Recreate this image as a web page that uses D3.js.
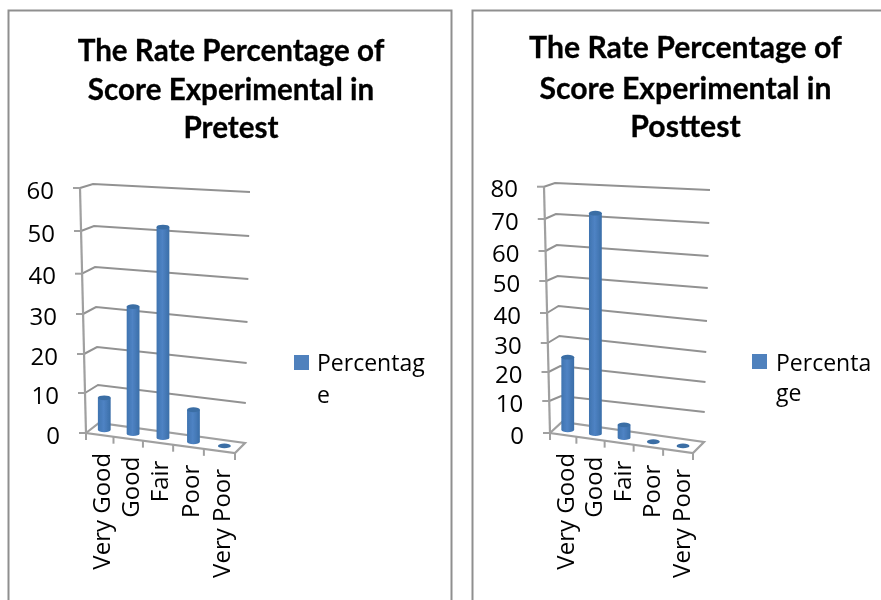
<!DOCTYPE html>
<html>
<head>
<meta charset="utf-8">
<script src="https://cdn.jsdelivr.net/npm/d3@7"></script>
<style>
  html, body { margin: 0; padding: 0; background: #fff; overflow: hidden; }
  svg { display: block; }
</style>
</head>
<body>
<div id="chart"></div>
<script>
// chart values
const categories = ['Very Good', 'Good', 'Fair', 'Poor', 'Very Poor'];
const pretestValues = [8, 32, 52, 8, 0];
const posttestValues = [24, 72, 4, 0, 0];
const pretestTicks = [0, 10, 20, 30, 40, 50, 60];
const posttestTicks = [0, 10, 20, 30, 40, 50, 60, 70, 80];
const pretestTitle = ['The Rate Percentage of', 'Score Experimental in', 'Pretest'];
const posttestTitle = ['The Rate Percentage of', 'Score Experimental in', 'Posttest'];
const pretestLegend = ['Percentag', 'e'];
const posttestLegend = ['Percenta', 'ge'];

const width = 881;
const height = 600;
const gridColor = '#929292';
const axisColor = '#a0a0a0';

const svg = d3.select('#chart').append('svg')
    .attr('width', width)
    .attr('height', height);

const defs = svg.append('defs');
const grad = defs.append('linearGradient').attr('id', 'cyl');
grad.append('stop').attr('offset', '0%').attr('stop-color', '#3f74b0');
grad.append('stop').attr('offset', '45%').attr('stop-color', '#4f83c4');
grad.append('stop').attr('offset', '100%').attr('stop-color', '#3a6ea8');

defs.append('filter').attr('id', 'soft')
    .append('feGaussianBlur').attr('stdDeviation', 0.4);

// One chart panel. The wall is in perspective, so the value scales are
// piecewise and follow the gridlines.
function drawPanel(opts) {
    const g = svg.append('g').attr('filter', 'url(#soft)');
    const { ticks, values } = opts;
    const top = ticks[ticks.length - 1];

    // frame, open at the bottom
    g.append('path')
        .attr('d', `M${opts.frame[0]},${height + 5}V10.5H${opts.frame[1]}V${height + 5}`)
        .attr('fill', 'none')
        .attr('stroke', '#8f8f8f')
        .attr('stroke-width', 2);

    g.selectAll('.title')
        .data(opts.title)
        .enter()
        .append('text')
        .attr('class', 'title')
        .attr('x', opts.titleX)
        .attr('y', (d, i) => opts.titleY[i])
        .attr('text-anchor', 'middle')
        .attr('font-family', 'Lato')
        .attr('font-weight', 700)
        .attr('font-size', opts.titleSize)
        .attr('stroke', '#000')
        .attr('stroke-width', 0.3)
        .attr('fill', '#000')
        .text(d => d);

    const yFront = d3.scaleLinear().domain(ticks).range(opts.yFront);
    const yBackLeft = d3.scaleLinear().domain(ticks).range(opts.yBackLeft);
    const yBackRight = d3.scaleLinear().domain(ticks).range(opts.yBackRight);
    const xFront = d3.scaleLinear().domain([0, top]).range(opts.xFront);
    const xBackLeft = d3.scaleLinear().domain([0, top]).range(opts.xBackLeft);
    const xBackRight = d3.scaleLinear().domain([0, top]).range(opts.xBackRight);

    // positions along the floor's front edge
    const floorX = d3.scalePow().exponent(1.05).domain([0, categories.length]).range(opts.floorX);
    const floorY = d3.scalePow().exponent(1.05).domain([0, categories.length]).range(opts.floorY);

    // floor
    g.append('path')
        .attr('d', d3.line()([
            [floorX(0), floorY(0)],
            [xBackLeft(0), yBackLeft(0)],
            [xBackRight(0), yBackRight(0)],
            [floorX(categories.length), floorY(categories.length)]
        ]) + 'Z')
        .attr('fill', '#fff')
        .attr('stroke', axisColor)
        .attr('stroke-width', 2.2);

    // gridlines on the back wall
    g.selectAll('.grid')
        .data(ticks.filter(d => d > 0))
        .enter()
        .append('path')
        .attr('class', 'grid')
        .attr('d', d => d3.line()([
            [xFront(d), yFront(d)],
            [xBackLeft(d), yBackLeft(d)],
            [xBackRight(d), yBackRight(d)]
        ]))
        .attr('fill', 'none')
        .attr('stroke', gridColor)
        .attr('stroke-width', 2);

    // side wall edge and value axis
    g.append('line')
        .attr('x1', xFront(0)).attr('y1', yFront(0))
        .attr('x2', xFront(top)).attr('y2', yFront(top))
        .attr('stroke', axisColor)
        .attr('stroke-width', 2.2);

    g.selectAll('.ytick')
        .data(ticks)
        .enter()
        .append('line')
        .attr('class', 'ytick')
        .attr('x1', d => xFront(d) - 7)
        .attr('x2', d => xFront(d))
        .attr('y1', d => yFront(d))
        .attr('y2', d => yFront(d))
        .attr('stroke', axisColor)
        .attr('stroke-width', 2);

    g.selectAll('.ylabel')
        .data(ticks)
        .enter()
        .append('text')
        .attr('class', 'ylabel')
        .attr('x', d => xFront(d) - opts.labelGap)
        .attr('y', d => yFront(d) + 10.5)
        .attr('text-anchor', 'end')
        .attr('font-family', 'Open Sans')
        .attr('font-size', opts.tickSize)
        .attr('fill', '#000')
        .text(d => d);

    // category ticks
    g.selectAll('.xtick')
        .data(d3.range(categories.length + 1))
        .enter()
        .append('line')
        .attr('class', 'xtick')
        .attr('x1', d => floorX(d))
        .attr('x2', d => floorX(d))
        .attr('y1', d => floorY(d))
        .attr('y2', d => floorY(d) + 7)
        .attr('stroke', axisColor)
        .attr('stroke-width', 2);

    // cylinders
    const rx = 6.4;
    const ry = 2.4;
    const bars = g.selectAll('.bar')
        .data(values)
        .enter()
        .append('g')
        .attr('class', 'bar')
        .attr('transform', (d, i) =>
            `translate(${floorX(i + 0.5) + 5},${floorY(i + 0.5) - 5})`);

    bars.filter(d => d > 0).append('path')
        .attr('d', d => {
            const h = yFront(0) - yFront(d);
            return `M${-rx},${-h}V0A${rx},${ry} 0 0 0 ${rx},0V${-h}Z`;
        })
        .attr('fill', 'url(#cyl)');

    bars.append('ellipse')
        .attr('cy', d => yFront(d) - yFront(0))
        .attr('rx', rx)
        .attr('ry', ry)
        .attr('fill', '#3a6ea5');

    // category labels
    g.selectAll('.xlabel')
        .data(categories)
        .enter()
        .append('text')
        .attr('class', 'xlabel')
        .attr('transform', (d, i) =>
            `translate(${floorX(i + 0.5) + opts.catDx},${floorY(i + 0.5) + 18}) rotate(-90)`)
        .attr('text-anchor', 'end')
        .attr('font-family', 'Open Sans')
        .attr('font-size', opts.catSize)
        .attr('fill', '#000')
        .text(d => d);

    // legend
    g.append('rect')
        .attr('x', opts.legendX)
        .attr('y', opts.legendY)
        .attr('width', 15)
        .attr('height', 15)
        .attr('fill', '#4f81bd');

    g.selectAll('.legend')
        .data(opts.legend)
        .enter()
        .append('text')
        .attr('class', 'legend')
        .attr('x', opts.legendTextX)
        .attr('y', (d, i) => opts.legendTextY[i])
        .attr('font-family', 'Open Sans')
        .attr('font-size', opts.legendSize)
        .attr('fill', '#000')
        .text(d => d);
}

drawPanel({
    ticks: pretestTicks,
    values: pretestValues,
    title: pretestTitle,
    legend: pretestLegend,
    frame: [8.5, 451.5],
    titleX: 231,
    titleY: [61, 100, 138],
    titleSize: 29.6,
    tickSize: 24,
    catSize: 24,
    catDx: 10.5,
    labelGap: 26,
    yFront: [433, 393, 354, 314, 273.7, 231, 188],
    yBackLeft: [423, 385, 347, 307, 267, 226, 184],
    yBackRight: [443, 403, 363, 322, 279, 236, 192],
    xFront: [86, 80],
    xBackLeft: [99, 93],
    xBackRight: [245, 250],
    floorX: [86, 235],
    floorY: [433, 453],
    legendX: 294,
    legendY: 355,
    legendTextX: 317,
    legendTextY: [371, 403],
    legendSize: 23
});

drawPanel({
    ticks: posttestTicks,
    values: posttestValues,
    title: posttestTitle,
    legend: posttestLegend,
    frame: [472.5, 890],
    titleX: 685.5,
    titleY: [58, 99, 137],
    titleSize: 30.2,
    tickSize: 24,
    catSize: 24,
    catDx: 11.5,
    labelGap: 26,
    yFront: [433, 401, 372, 343, 313, 281, 251, 219, 186.7],
    yBackLeft: [422, 396, 366, 336, 306, 276, 245, 214, 183],
    yBackRight: [442, 412, 382, 352, 321, 288, 256, 223, 190],
    xFront: [550, 544],
    xBackLeft: [562, 555],
    xBackRight: [704, 710],
    floorX: [550, 693],
    floorY: [433, 453],
    legendX: 752,
    legendY: 354,
    legendTextX: 776,
    legendTextY: [371, 401],
    legendSize: 23
});
</script>
</body>
</html>
